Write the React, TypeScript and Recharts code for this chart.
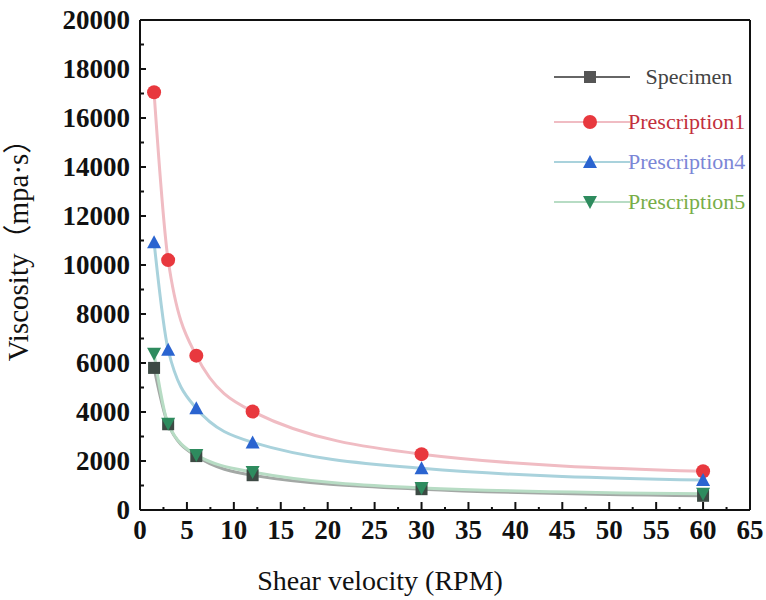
import { LineChart, Line, XAxis, YAxis, ReferenceLine, Legend, Label } from "recharts";

// shear velocity (RPM)
const rpm = [1.5, 3, 6, 12, 30, 60];
// viscosity values (mpa·s)
const specimen = [5800, 3500, 2200, 1420, 850, 580];
const prescription1 = [17050, 10200, 6300, 4020, 2280, 1580];
const prescription4 = [10930, 6540, 4150, 2760, 1700, 1220];
const prescription5 = [6380, 3520, 2250, 1550, 900, 660];

const xTicks = [0, 2.5, 5, 7.5, 10, 12.5, 15, 17.5, 20, 22.5, 25, 27.5, 30, 32.5, 35, 37.5, 40, 42.5, 45, 47.5, 50, 52.5, 55, 57.5, 60, 62.5, 65];
const yTicks = [0, 1000, 2000, 3000, 4000, 5000, 6000, 7000, 8000, 9000, 10000, 11000, 12000, 13000, 14000, 15000, 16000, 17000, 18000, 19000, 20000];

const data = rpm.map((r, i) => ({
  rpm: r,
  specimen: specimen[i],
  p1: prescription1[i],
  p4: prescription4[i],
  p5: prescription5[i],
}));

const series = [
  { key: "specimen", name: "Specimen", line: "#a3a8a5", mark: "#3d4a44", text: "#444444", shape: "square" },
  { key: "p1", name: "Prescription1", line: "#f0bcc3", mark: "#e8383e", text: "#c2303c", shape: "circle" },
  { key: "p4", name: "Prescription4", line: "#a9d2dc", mark: "#2a64d0", text: "#7b86d6", shape: "up" },
  { key: "p5", name: "Prescription5", line: "#b7dcc4", mark: "#2e8b5e", text: "#78ad48", shape: "down" },
];

const SERIF = "'Liberation Serif', 'Times New Roman', serif";

function Marker({ shape, cx, cy, fill }: { shape: string; cx: number; cy: number; fill: string }) {
  if (shape === "square") return <rect x={cx - 6} y={cy - 6} width={12} height={12} fill={fill} />;
  if (shape === "circle") return <circle cx={cx} cy={cy} r={7} fill={fill} />;
  if (shape === "up") return <path d={`M${cx},${cy - 7} L${cx + 7},${cy + 6} L${cx - 7},${cy + 6} Z`} fill={fill} />;
  return <path d={`M${cx - 7},${cy - 6} L${cx + 7},${cy - 6} L${cx},${cy + 7} Z`} fill={fill} />;
}

function XTick(props: any) {
  const { x, y, payload } = props;
  const axisY = y - 8;
  const major = payload.value % 5 === 0;
  return (
    <g>
      <line x1={x} x2={x} y1={axisY} y2={axisY - (major ? 8 : 3)} stroke="#111" strokeWidth={2} />
      {major && (
        <text x={x} y={y} dy="0.78em" textAnchor="middle" fontFamily={SERIF} fontWeight="bold" fontSize={27} fill="#111">
          {payload.value}
        </text>
      )}
    </g>
  );
}

function YTick(props: any) {
  const { x, y, payload } = props;
  const axisX = x + 10;
  const major = payload.value % 2000 === 0;
  return (
    <g>
      <line x1={axisX} x2={axisX + (major ? 6 : 4)} y1={y} y2={y} stroke="#111" strokeWidth={2} />
      {major && (
        <text x={x} y={y} dy="0.35em" textAnchor="end" fontFamily={SERIF} fontWeight="bold" fontSize={27} fill="#111">
          {payload.value}
        </text>
      )}
    </g>
  );
}

function LegendBox() {
  const rows = [0, 45, 85, 125];
  return (
    <svg width={210} height={160} style={{ overflow: "visible" }}>
      {series.map((s, i) => (
        <g key={s.key} transform={`translate(0, ${rows[i] + 15})`}>
          <line x1={0} x2={76} y1={0} y2={0} stroke={s.key === "specimen" ? "#666" : s.line} strokeWidth={2} />
          <Marker shape={s.shape} cx={36} cy={0} fill={s.key === "specimen" ? "#555" : s.mark} />
          <text
            x={s.key === "specimen" ? 135 : 74}
            y={0}
            dy="0.33em"
            textAnchor={s.key === "specimen" ? "middle" : "start"}
            fontFamily={SERIF}
            fontSize={22}
            fill={s.text}
          >
            {s.name}
          </text>
        </g>
      ))}
    </svg>
  );
}

export default function App() {
  return (
    <div style={{ width: 766, height: 600, background: "#fff", position: "relative" }}>
      <style>{`body{margin:0}`}</style>
      <LineChart width={766} height={600} data={data} margin={{ top: 20, right: 16, left: 0, bottom: 0 }}>
        <XAxis
          dataKey="rpm"
          type="number"
          domain={[0, 65]}
          ticks={xTicks}
          interval={0}
          height={90}
          tickSize={0}
          tickMargin={8}
          tickLine={false}
          axisLine={{ stroke: "#111", strokeWidth: 2 }}
          tick={<XTick />}
        >
          <Label
            value="Shear velocity (RPM)"
            position="insideBottom"
            offset={10}
            dx={-65}
            style={{ fontFamily: SERIF, fontSize: 28, fill: "#111" }}
          />
        </XAxis>
        <YAxis
          type="number"
          domain={[0, 20000]}
          ticks={yTicks}
          interval={0}
          width={140}
          tickSize={0}
          tickMargin={10}
          tickLine={false}
          axisLine={{ stroke: "#111", strokeWidth: 2 }}
          tick={<YTick />}
        >
          <Label
            value="Viscosity（mpa·s）"
            angle={-90}
            position="insideLeft"
            offset={18}
            dy={-22}
            style={{ fontFamily: "'Liberation Serif', 'Noto Sans CJK SC', serif", fontSize: 29, fill: "#111", textAnchor: "middle" }}
          />
        </YAxis>
        <ReferenceLine y={20000} stroke="#111" strokeWidth={2} />
        <ReferenceLine x={65} stroke="#111" strokeWidth={2} />
        <Legend
          layout="horizontal"
          verticalAlign="middle"
          align="center"
          content={<LegendBox />}
          wrapperStyle={{ position: "absolute", left: 554, top: 62, width: 210 }}
        />
        {series.map((s) => (
          <Line
            key={s.key}
            type="monotone"
            dataKey={s.key}
            name={s.name}
            stroke={s.line}
            strokeWidth={3}
            isAnimationActive={false}
            dot={(p: any) => <Marker key={`${s.key}-${p.index}`} shape={s.shape} cx={p.cx} cy={p.cy} fill={s.mark} />}
            activeDot={false}
          />
        ))}
      </LineChart>
    </div>
  );
}
